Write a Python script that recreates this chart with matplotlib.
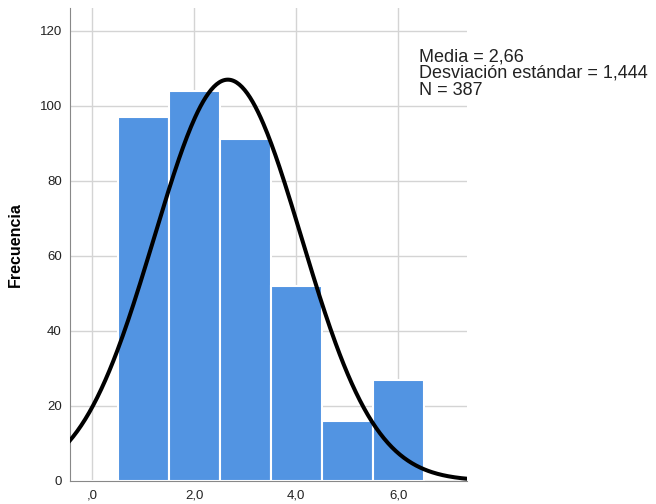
import numpy as np
import matplotlib
matplotlib.use('Agg')
import matplotlib.pyplot as plt
from matplotlib.ticker import FuncFormatter

plt.rcParams['font.family'] = ['Liberation Sans', 'DejaVu Sans']

# datos del histograma
centros = [0, 1, 2, 3, 4, 5, 6]
frecuencias = [0, 97, 104, 91, 52, 16, 27]
media = 2.66
desv = 1.444
n = 387
xticks = [0, 2, 4, 6]
yticks = [0, 20, 40, 60, 80, 100, 120]


def fmt_x(v, pos):
    s = ('%.1f' % v).replace('.', ',')
    return s.lstrip('0') if v == 0 else s


fig = plt.figure(figsize=(6.56, 5.04), dpi=100)
ax = fig.add_axes([0.107, 0.046, 0.605, 0.938])

ax.bar(centros, frecuencias, width=1.0, color='#5294e2', edgecolor='white', linewidth=1.5, zorder=2)

# curva normal
xs = np.linspace(-0.45, 7.4, 300)
ys = n * 1.0 / (desv * np.sqrt(2 * np.pi)) * np.exp(-0.5 * ((xs - media) / desv) ** 2)
ax.plot(xs, ys, color='black', linewidth=2.9, zorder=3)

ax.set_xlim(-0.43, 7.35)
ax.set_ylim(0, 126)
ax.set_xticks(xticks)
ax.set_yticks(yticks)
ax.xaxis.set_major_formatter(FuncFormatter(fmt_x))
ax.grid(True, color='#d4d4d4', linewidth=1, zorder=0)
ax.set_axisbelow(True)
for s in ['top', 'right']:
    ax.spines[s].set_visible(False)
ax.spines['left'].set_color('#888888')
ax.spines['bottom'].set_color('#888888')
ax.tick_params(length=0, labelsize=9.5, colors='#222222', pad=6)

ax.set_ylabel('Frecuencia', fontsize=11.5, fontweight='bold', labelpad=12)

ax.text(0.878, 0.915, 'Media = 2,66\nDesviación estándar = 1,444\nN = 387',
        transform=ax.transAxes, fontsize=13, va='top', ha='left', linespacing=0.98,
        color='#222222', clip_on=False)

fig.savefig('out.png', dpi=100)
